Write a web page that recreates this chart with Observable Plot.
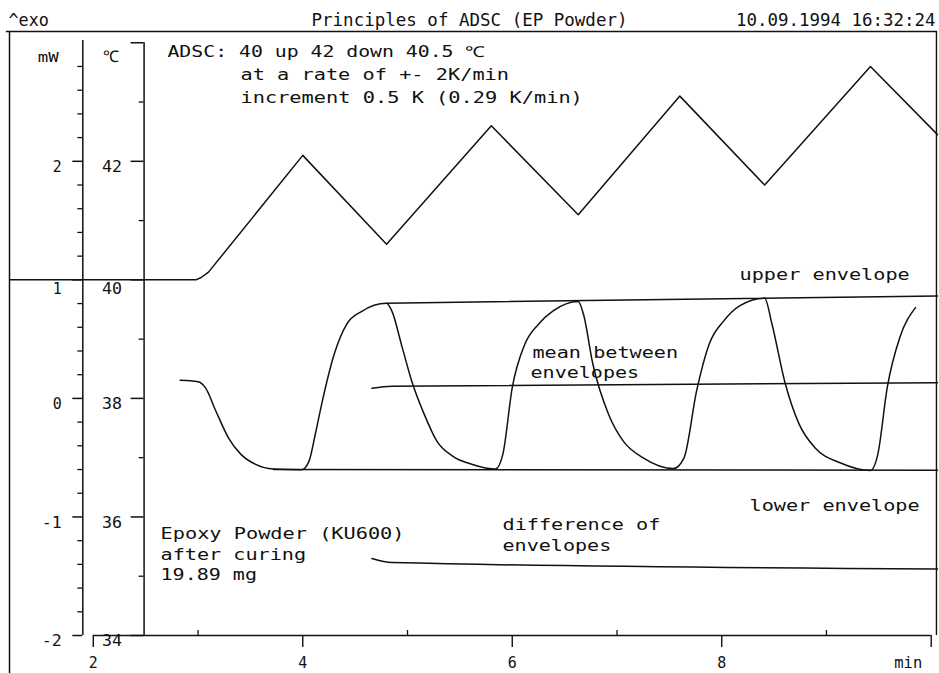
<!DOCTYPE html>
<html>
<head>
<meta charset="utf-8">
<script src="https://cdn.jsdelivr.net/npm/d3@7"></script>
<script src="https://cdn.jsdelivr.net/npm/@observablehq/plot@0.6"></script>
<style>
  html, body { margin: 0; padding: 0; background: #fff; }
  #chart svg { display: block; }
</style>
</head>
<body>
<div id="chart"></div>
<script>
// ---------- data ----------
// heat flow signal (mW) vs time (min)
const hfTime  = [2.83, 3.00, 3.07, 3.17, 3.29, 3.41, 3.55, 3.72, 3.99, 4.06, 4.12, 4.18, 4.30, 4.42, 4.56, 4.80,
                 4.85, 4.95, 5.04, 5.16, 5.28, 5.43, 5.62, 5.84,
                 5.91, 6.00, 6.12, 6.25, 6.39, 6.63,
                 6.68, 6.77, 6.92, 7.06, 7.25, 7.54,
                 7.64, 7.76, 7.88, 8.02, 8.17, 8.41,
                 8.48, 8.60, 8.74, 8.89, 9.13, 9.42,
                 9.49, 9.58, 9.70, 9.85];
const hfPower = [0.153, 0.141, 0.091, -0.106, -0.332, -0.472, -0.557, -0.596, -0.602, -0.529, -0.30, -0.050, 0.372, 0.626, 0.733, 0.803,
                 0.738, 0.428, 0.147, -0.135, -0.360, -0.486, -0.557, -0.596,
                 -0.472, 0.091, 0.457, 0.626, 0.738, 0.817,
                 0.710, 0.288, -0.135, -0.360, -0.501, -0.591,
                 -0.501, 0.063, 0.457, 0.654, 0.780, 0.845,
                 0.626, 0.147, -0.219, -0.416, -0.543, -0.608,
                 -0.472, 0.091, 0.513, 0.766];
// sample temperature programme (°C) vs time (min)
const tempTime = [1.20, 2.98, 3.03, 3.10, 4.00, 4.80, 5.80, 6.63, 7.60, 8.41, 9.42, 10.06];
const tempC    = [40.0, 40.0, 40.04, 40.13, 42.1, 40.6, 42.6, 41.1, 43.1, 41.6, 43.6, 42.45];
// envelopes (mW)
const upperT = [4.80, 10.06], upperP = [0.803, 0.864];
const lowerT = [3.72, 10.06], lowerP = [-0.600, -0.605];
const meanT  = [4.66, 4.85, 10.06], meanP = [0.085, 0.103, 0.133];
const diffT  = [4.66, 4.85, 10.06], diffP = [-1.35, -1.385, -1.44];
// axis ticks
const mwMajor = [-2, -1, 0, 1, 2];
const mwMinor = [-1.8,-1.6,-1.4,-1.2,-0.8,-0.6,-0.4,-0.2,0.2,0.4,0.6,0.8,1.2,1.4,1.6,1.8,2.2,2.4,2.6,2.8];
const cMajor = [34, 36, 38, 40, 42, 44];
const cMinor = [35, 37, 39, 41, 43];
const cLabels = [34, 36, 38, 40, 42];
const xMajor = [2, 4, 6, 8, 10];
const xMinor = [3, 5, 7, 9];
const xLabels = [2, 4, 6, 8];
// texts
const titleText = "Principles of ADSC (EP Powder)";
const dateText = "10.09.1994 16:32:24";
const exoText = "^exo";
const annotations = [
  {text: "ADSC: 40 up 42 down 40.5 ℃", t: 2.708, v: 2.876},
  {text: "at a rate of +- 2K/min", t: 3.405, v: 2.682},
  {text: "increment 0.5 K (0.29 K/min)", t: 3.405, v: 2.488},
  {text: "upper envelope", t: 8.170, v: 1.003},
  {text: "mean between", t: 6.193, v: 0.337},
  {text: "envelopes", t: 6.174, v: 0.176},
  {text: "lower envelope", t: 8.265, v: -0.954},
  {text: "difference of", t: 5.907, v: -1.106},
  {text: "envelopes", t: 5.907, v: -1.291},
  {text: "Epoxy Powder (KU600)", t: 2.642, v: -1.182},
  {text: "after curing", t: 2.642, v: -1.359},
  {text: "19.89 mg", t: 2.642, v: -1.536}
];

// ---------- build ----------
const toMw = c => (c - 38) / 2;          // °C axis is tied to the mW axis
const xDomain = [1.2, 10.06];
const yDomain = [-2, 3.095];
const mwAxisAt = 1.9, cAxisAt = 2.485;
const ink = "#111";
const mono = "DejaVu Sans Mono, Liberation Mono, monospace";

const heat = hfTime.map((t, i) => ({t, v: hfPower[i]}));
const temp = tempTime.map((t, i) => ({t, v: toMw(tempC[i])}));
const pairs = (T, V) => T.map((t, i) => ({t, v: V[i]}));

const lineOpts = {x: "t", y: "v", stroke: ink, strokeWidth: 1.5};
const textBase = {fill: ink, fontFamily: mono, fontSize: 15};

const chart = Plot.plot({
  width: 939, height: 673,
  marginLeft: 9, marginRight: 2, marginTop: 31, marginBottom: 38,
  x: {domain: xDomain, axis: null},
  y: {domain: yDomain, axis: null},
  style: {background: "#fff", color: ink},
  marks: [
    // frame
    Plot.ruleY([yDomain[1]], {x1: 1.17, x2: 10.06, stroke: ink, strokeWidth: 1.6}),
    Plot.ruleX([1.2], {y1: -2.32, y2: yDomain[1], stroke: ink, strokeWidth: 1.5}),
    Plot.ruleX([10.05], {y1: -2, y2: yDomain[1], stroke: ink, strokeWidth: 1.4}),
    // mW axis
    Plot.ruleX([mwAxisAt], {y1: -2, y2: 3.02, stroke: ink, strokeWidth: 1.5}),
    Plot.ruleY(mwMajor, {y: d => d, x1: mwAxisAt, x2: mwAxisAt, insetLeft: -10, stroke: ink, strokeWidth: 1.5}),
    Plot.ruleY(mwMinor, {y: d => d, x1: mwAxisAt, x2: mwAxisAt, insetLeft: -5, stroke: ink, strokeWidth: 1.3}),
    Plot.text(mwMajor.filter(d => d !== 1), {...textBase, ariaDescription: "ticklab", x: mwAxisAt, y: d => d, text: d => String(d), textAnchor: "end", dx: -21, dy: 6}),
    Plot.text([1], {...textBase, ariaDescription: "ticklab", x: mwAxisAt, y: d => d, text: d => String(d), textAnchor: "end", dx: -21, dy: 9}),
    Plot.text(["mW"], {...textBase, ariaDescription: "unit", fontSize: 14, x: mwAxisAt, y: yDomain[1], text: d => d, textAnchor: "end", dx: -24, dy: 26}),
    // °C axis
    Plot.ruleX([cAxisAt], {y1: -2, y2: toMw(44), stroke: ink, strokeWidth: 1.5}),
    Plot.ruleY(cMajor, {y: d => toMw(d), x1: cAxisAt, x2: cAxisAt, insetLeft: -13, stroke: ink, strokeWidth: 1.5}),
    Plot.ruleY(cMinor, {y: d => toMw(d), x1: cAxisAt, x2: cAxisAt, insetLeft: -5, stroke: ink, strokeWidth: 1.3}),
    Plot.text(cLabels.filter(d => d !== 40), {...textBase, ariaDescription: "ticklab", x: cAxisAt, y: d => toMw(d), text: d => String(d), textAnchor: "end", dx: -22, dy: 6}),
    Plot.text([40], {...textBase, ariaDescription: "ticklab", x: cAxisAt, y: d => toMw(d), text: d => String(d), textAnchor: "end", dx: -22, dy: 9}),
    Plot.text(["℃"], {...textBase, fontSize: 16, x: cAxisAt, y: yDomain[1], text: d => d, textAnchor: "end", dx: -25, dy: 25}),
    // time axis
    Plot.ruleY([-2], {x1: 2, x2: 10, stroke: ink, strokeWidth: 1.5}),
    Plot.ruleX(xMajor, {x: d => d, y1: -2, y2: -2, insetTop: 12, stroke: ink, strokeWidth: 1.4}),
    Plot.ruleX(xMinor, {x: d => d, y1: -2, y2: -2, insetBottom: 5, stroke: ink, strokeWidth: 1.3}),
    Plot.text(xLabels, {...textBase, ariaDescription: "ticklab", x: d => d, y: -2, text: d => String(d), dy: 28}),
    Plot.text(["min"], {...textBase, ariaDescription: "xunit", x: 10, y: -2, text: d => d, textAnchor: "end", dx: -9, dy: 28}),
    // curves
    Plot.line(temp, lineOpts),
    Plot.line(heat, {...lineOpts, curve: "monotone-x"}),
    Plot.line(pairs(upperT, upperP), lineOpts),
    Plot.line(pairs(lowerT, lowerP), lineOpts),
    Plot.line(pairs(meanT, meanP), {...lineOpts, curve: "monotone-x"}),
    Plot.line(pairs(diffT, diffP), {...lineOpts, curve: "monotone-x"}),
    // annotations
    Plot.text(annotations, {...textBase, ariaDescription: "anno", x: "t", y: "v", text: "text", textAnchor: "start", lineAnchor: "bottom"}),
    // header row
    Plot.text([exoText], {...textBase, ariaDescription: "top", fontSize: 17.5, text: d => d, frameAnchor: "top-left", textAnchor: "start", lineAnchor: "bottom", dx: -1, dy: -6}),
    Plot.text([titleText], {...textBase, ariaDescription: "top", fontSize: 17.5, text: d => d, frameAnchor: "top", lineAnchor: "bottom", dx: -4, dy: -6}),
    Plot.text([dateText], {...textBase, ariaDescription: "top", fontSize: 17.5, text: d => d, frameAnchor: "top-right", textAnchor: "end", lineAnchor: "bottom", dx: -2, dy: -6})
  ]
});

// widen the glyphs like the plotter font of the original (per-character advance in px)
const advance = {anno: 12.3, ticklab: 11, top: 10.6, unit: 11.5, xunit: 10};
for (const [key, adv] of Object.entries(advance)) {
  d3.select(chart).selectAll(`g[aria-description="${key}"] text`).each(function() {
    const n = [...this.textContent].length;
    this.setAttribute("textLength", (n * adv - 2).toFixed(1));
    this.setAttribute("lengthAdjust", "spacingAndGlyphs");
  });
}
document.getElementById("chart").appendChild(chart);
</script>
</body>
</html>
